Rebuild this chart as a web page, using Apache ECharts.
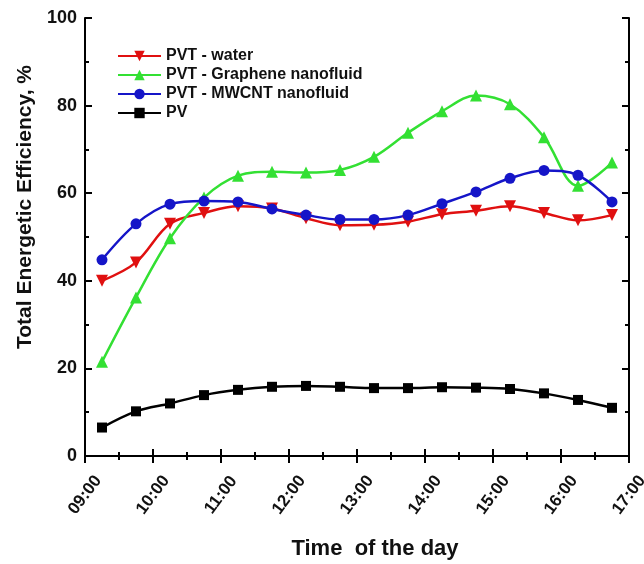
<!DOCTYPE html>
<html><head><meta charset="utf-8">
<script src="https://cdn.jsdelivr.net/npm/echarts@6/dist/echarts.min.js"></script>
<style>html,body{margin:0;padding:0;background:#fff}#c{width:644px;height:564px}</style>
</head><body><div id="c"></div>
<script>
const hours = [9.25, 9.75, 10.25, 10.75, 11.25, 11.75, 12.25, 12.75, 13.25, 13.75, 14.25, 14.75, 15.25, 15.75, 16.25, 16.75];
const pvtWater = [40, 44.2, 53, 55.5, 57, 56.5, 54.3, 52.7, 52.8, 53.5, 55.2, 56, 57, 55.5, 53.8, 55];
const pvtGraphene = [21.5, 36.2, 49.7, 59, 64, 64.9, 64.7, 65.3, 68.3, 73.8, 78.7, 82.3, 80.3, 72.8, 61.7, 67];
const pvtMwcnt = [44.8, 53, 57.5, 58.2, 58, 56.4, 55, 54, 54, 55, 57.6, 60.3, 63.4, 65.2, 64.1, 58];
const pv = [6.5, 10.2, 12, 13.9, 15.1, 15.8, 16, 15.8, 15.5, 15.5, 15.7, 15.6, 15.3, 14.3, 12.8, 11];
const seriesNames = ['PVT - water', 'PVT - Graphene nanofluid', 'PVT - MWCNT nanofluid', 'PV'];
const yTicks = [0, 20, 40, 60, 80, 100];

const font = 'Liberation Sans, Arial, sans-serif';
const pair = arr => hours.map((h, i) => [h, arr[i]]);
const fmtHour = v => (v < 10 ? '0' : '') + Math.round(v) + ':00';

const mk = (name, data, color, symbol, size) => ({
  name, type: 'line', data: pair(data), smooth: 0.35,
  symbol, symbolSize: size,
  lineStyle: {color, width: 2.5},
  itemStyle: {color},
  z: 3
});

const chart = echarts.init(document.getElementById('c'));
chart.setOption({
  animation: false,
  backgroundColor: '#fff',
  grid: {left: 85, right: 15, top: 18, bottom: 108, containLabel: false, outerBoundsMode: 'none'},
  legend: {
    orient: 'vertical', left: 112, top: 43, itemGap: 3, itemWidth: 43, itemHeight: 13,
    data: seriesNames,
    textStyle: {fontFamily: font, fontWeight: 'bold', fontSize: 16, color: '#111'}
  },
  xAxis: [{
    type: 'value', min: 9, max: 17, interval: 1,
    name: 'Time  of the day', nameLocation: 'middle', nameGap: 82,
    nameTextStyle: {fontFamily: font, fontWeight: 'bold', fontSize: 22, color: '#111', padding: [0, 0, 0, 36]},
    axisLine: {lineStyle: {color: '#000', width: 2}},
    axisTick: {inside: true, length: 7, lineStyle: {color: '#000', width: 2}},
    minorTick: {show: true, splitNumber: 2, length: 4, lineStyle: {color: '#000', width: 2}},
    splitLine: {show: false},
    axisLabel: {rotate: 53, align: 'center', verticalAlign: 'middle', formatter: fmtHour,
      fontFamily: font, fontWeight: 'bold', fontSize: 17, color: '#111', margin: 39}
  }, {
    type: 'value', min: 9, max: 17, interval: 1, position: 'top',
    axisLine: {lineStyle: {color: '#000', width: 2}},
    axisTick: {inside: true, length: 7, lineStyle: {color: '#000', width: 2}},
    minorTick: {show: true, splitNumber: 2, length: 4, lineStyle: {color: '#000', width: 2}},
    splitLine: {show: false}, axisLabel: {show: false}
  }],
  yAxis: [{
    type: 'value', min: yTicks[0], max: yTicks[yTicks.length - 1], interval: 20,
    name: 'Total Energetic Efficiency, %', nameLocation: 'middle', nameGap: 45,
    nameTextStyle: {fontFamily: font, fontWeight: 'bold', fontSize: 21, color: '#111', padding: [0, 0, 0, 60]},
    axisLine: {lineStyle: {color: '#000', width: 2}},
    axisTick: {inside: true, length: 7, lineStyle: {color: '#000', width: 2}},
    minorTick: {show: true, splitNumber: 2, length: 4, lineStyle: {color: '#000', width: 2}},
    splitLine: {show: false},
    axisLabel: {fontFamily: font, fontWeight: 'bold', fontSize: 18, color: '#111', margin: 8}
  }, {
    type: 'value', min: 0, max: 100, interval: 20, position: 'right',
    axisLine: {show: true, lineStyle: {color: '#000', width: 2}},
    axisTick: {show: true, inside: true, length: 7, lineStyle: {color: '#000', width: 2}},
    minorTick: {show: true, splitNumber: 2, length: 4, lineStyle: {color: '#000', width: 2}},
    splitLine: {show: false}, axisLabel: {show: false}
  }],
  series: [
    mk(seriesNames[0], pvtWater, '#e01010', 'path://M0,0 L10,0 L5,9 Z', 12),
    mk(seriesNames[1], pvtGraphene, '#33e033', 'triangle', 12),
    mk(seriesNames[2], pvtMwcnt, '#1515c8', 'circle', 11),
    mk(seriesNames[3], pv, '#000000', 'rect', 10)
  ]
});
</script></body></html>
